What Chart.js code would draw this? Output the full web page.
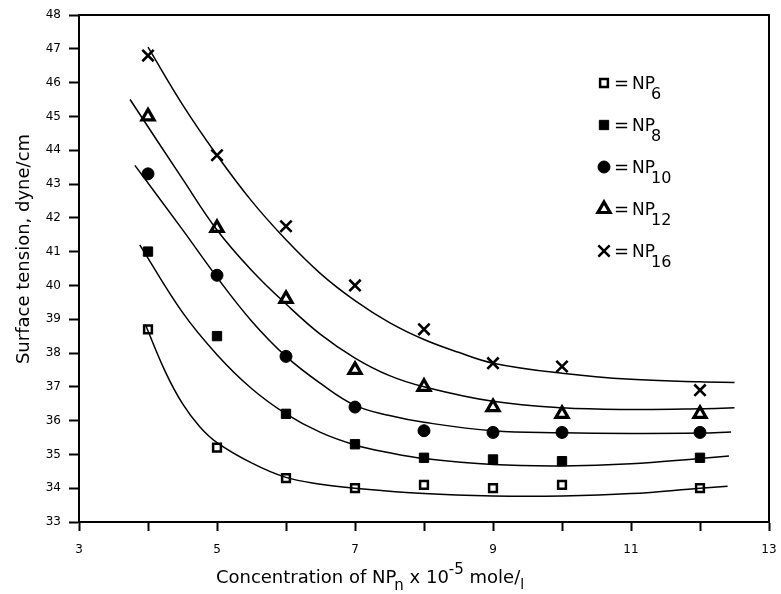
<!DOCTYPE html>
<html>
<head>
<meta charset="UTF-8">
<title>Surface tension vs concentration</title>
<script src="https://cdn.jsdelivr.net/npm/chart.js"></script>
<style>
  body { margin: 0; background: #fff; }
</style>
</head>
<body>
<canvas id="chart" width="781" height="594"></canvas>
<script>
// measured points (x = concentration x10^-5 mole/l)
const concentration = [4, 5, 6, 7, 8, 9, 10, 12];
const np6  = [38.7, 35.2, 34.3, 34.0, 34.1, 34.0, 34.1, 34.0];
const np8  = [41.0, 38.5, 36.2, 35.3, 34.9, 34.85, 34.8, 34.9];
const np10 = [43.3, 40.3, 37.9, 36.4, 35.7, 35.65, 35.65, 35.65];
const np12 = [45.0, 41.7, 39.6, 37.5, 37.0, 36.4, 36.2, 36.2];
const np16 = [46.8, 43.85, 41.75, 40.0, 38.7, 37.7, 37.6, 36.9];

// fitted curves
const fitX6  = [3.96, 4.25, 4.5, 4.75, 5, 5.5, 6, 6.5, 7, 8, 9, 10, 11, 12, 12.4];
const fit6   = [38.85, 37.45, 36.5, 35.82, 35.35, 34.75, 34.32, 34.12, 34.0, 33.84, 33.77, 33.77, 33.84, 34.0, 34.06];
const fitX8  = [3.88, 4.5, 5, 5.5, 6, 6.5, 7, 7.5, 8, 9, 10, 11, 12, 12.42];
const fit8   = [41.2, 39.2, 37.95, 36.95, 36.2, 35.65, 35.28, 35.05, 34.88, 34.7, 34.66, 34.72, 34.88, 34.95];
const fitX10 = [3.81, 4.5, 5, 5.5, 6, 6.5, 7, 7.5, 8, 9, 10, 11, 12, 12.45];
const fit10  = [43.55, 41.65, 40.24, 38.95, 37.9, 37.1, 36.45, 36.15, 35.95, 35.7, 35.64, 35.62, 35.63, 35.66];
const fitX12 = [3.74, 4.5, 5, 5.5, 6, 6.5, 7, 7.5, 8, 9, 10, 11, 12, 12.5];
const fit12  = [45.5, 43.15, 41.64, 40.45, 39.45, 38.55, 37.85, 37.33, 37.0, 36.57, 36.38, 36.33, 36.35, 36.38];
const fitX16 = [4.0, 4.5, 5, 5.5, 6, 6.5, 7, 7.5, 8, 8.5, 9, 10, 11, 12, 12.5];
const fit16  = [47.05, 45.35, 43.85, 42.5, 41.35, 40.35, 39.55, 38.9, 38.4, 38.02, 37.7, 37.4, 37.22, 37.15, 37.13];

const xTicks = [3, 5, 7, 9, 11, 13];
const legendNames = ['6', '8', '10', '12', '16'];

const pts = (xs, ys) => xs.map((x, i) => ({ x: x, y: ys[i] }));

const markers = [
  { pointStyle: 'rect', pointRadius: 5.5, pointBackgroundColor: '#fff', pointBorderWidth: 2.5 },
  { pointStyle: 'rect', pointRadius: 6.6, pointBackgroundColor: '#000', pointBorderWidth: 1 },
  { pointStyle: 'circle', pointRadius: 6, pointBackgroundColor: '#000', pointBorderWidth: 1 },
  { pointStyle: 'triangle', pointRadius: 7, pointBackgroundColor: '#fff', pointBorderWidth: 3.2 },
  { pointStyle: 'crossRot', pointRadius: 8, pointBackgroundColor: '#000', pointBorderWidth: 2.6 }
];

const series = [np6, np8, np10, np12, np16];
const fits = [[fitX6, fit6], [fitX8, fit8], [fitX10, fit10], [fitX12, fit12], [fitX16, fit16]];

const datasets = [];
fits.forEach((f, i) => {
  datasets.push({
    label: 'fit NP' + legendNames[i],
    data: pts(f[0], f[1]),
    showLine: true,
    borderColor: '#000',
    borderWidth: 1.5,
    pointRadius: 0,
    tension: 0.4
  });
});
series.forEach((s, i) => {
  datasets.push(Object.assign({
    label: 'NP' + legendNames[i],
    data: pts(concentration, s),
    showLine: false,
    pointBorderColor: '#000'
  }, markers[i]));
});

// draw text in runs (for sub/superscripts)
function drawRuns(ctx, runs, x, y) {
  let cx = x;
  runs.forEach(r => {
    ctx.font = r.size + 'px "DejaVu Sans"';
    ctx.fillText(r.text, cx + (r.dx || 0), y + (r.dy || 0));
    cx += ctx.measureText(r.text).width + (r.dx || 0);
  });
}
function runsWidth(ctx, runs) {
  let w = 0;
  runs.forEach(r => {
    ctx.font = r.size + 'px "DejaVu Sans"';
    w += ctx.measureText(r.text).width + (r.dx || 0);
  });
  return w;
}

const extras = {
  id: 'extras',
  afterDraw(chart) {
    const ctx = chart.ctx;
    const a = chart.chartArea;
    ctx.save();
    // frame
    ctx.strokeStyle = '#000';
    ctx.lineWidth = 2;
    ctx.strokeRect(a.left, a.top, a.right - a.left, a.bottom - a.top);

    ctx.fillStyle = '#000';
    ctx.textBaseline = 'alphabetic';
    ctx.textAlign = 'left';

    // x title
    const xt = [
      { text: 'Concentration of NP', size: 18 },
      { text: 'n', size: 15, dy: 7, dx: -2 },
      { text: ' x 10', size: 18 },
      { text: '-5', size: 15, dy: -9 },
      { text: ' mole/', size: 18 },
      { text: 'l', size: 14, dy: 6 }
    ];
    drawRuns(ctx, xt, 370 - runsWidth(ctx, xt) / 2, 583);

    // y title
    ctx.save();
    ctx.translate(29, 249);
    ctx.rotate(-Math.PI / 2);
    ctx.textAlign = 'center';
    ctx.font = '18px "DejaVu Sans"';
    ctx.fillText('Surface tension, dyne/cm', 0, 0);
    ctx.restore();

    // legend
    const ly = [83, 125, 167, 209, 251];
    legendNames.forEach((n, i) => {
      const m = markers[i];
      ctx.fillStyle = m.pointBackgroundColor;
      ctx.strokeStyle = '#000';
      ctx.lineWidth = m.pointBorderWidth;
      Chart.helpers.drawPoint(ctx, {
        pointStyle: m.pointStyle, radius: m.pointRadius,
        rotation: 0, borderWidth: m.pointBorderWidth
      }, 604, ly[i]);
      ctx.fillStyle = '#000';
      drawRuns(ctx, [
        { text: '=', size: 18 },
        { text: 'NP', size: 17, dx: 3 },
        { text: n, size: 16, dy: 10, dx: -4 }
      ], 614, ly[i] + 6);
    });
    ctx.restore();
  }
};

new Chart(document.getElementById('chart'), {
  type: 'scatter',
  data: { datasets: datasets },
  options: {
    responsive: false,
    animation: false,
    layout: { padding: { top: 15, right: 12, left: 0, bottom: 0 } },
    plugins: { legend: { display: false }, tooltip: { enabled: false } },
    scales: {
      x: {
        type: 'linear', min: 3, max: 13,
        afterFit: s => { s.height = 72; s.paddingRight = 0; s.paddingLeft = 0; },
        border: { color: '#000', width: 2 },
        grid: { drawOnChartArea: false, color: '#000', tickLength: 9, tickWidth: 2 },
        ticks: {
          stepSize: 1, autoSkip: false, maxRotation: 0, padding: 12,
          color: '#000', font: { family: 'DejaVu Sans', size: 12 },
          callback: v => xTicks.includes(v) ? String(v) : ''
        }
      },
      y: {
        min: 33, max: 48,
        afterFit: s => { s.width = 79; s.paddingTop = 0; s.paddingBottom = 0; },
        border: { color: '#000', width: 2 },
        grid: { drawOnChartArea: false, color: '#000', tickLength: 10, tickWidth: 2 },
        ticks: {
          stepSize: 1, autoSkip: false, padding: 8,
          color: '#000', font: { family: 'DejaVu Sans', size: 12 }
        }
      }
    }
  },
  plugins: [extras]
});
</script>
</body>
</html>
